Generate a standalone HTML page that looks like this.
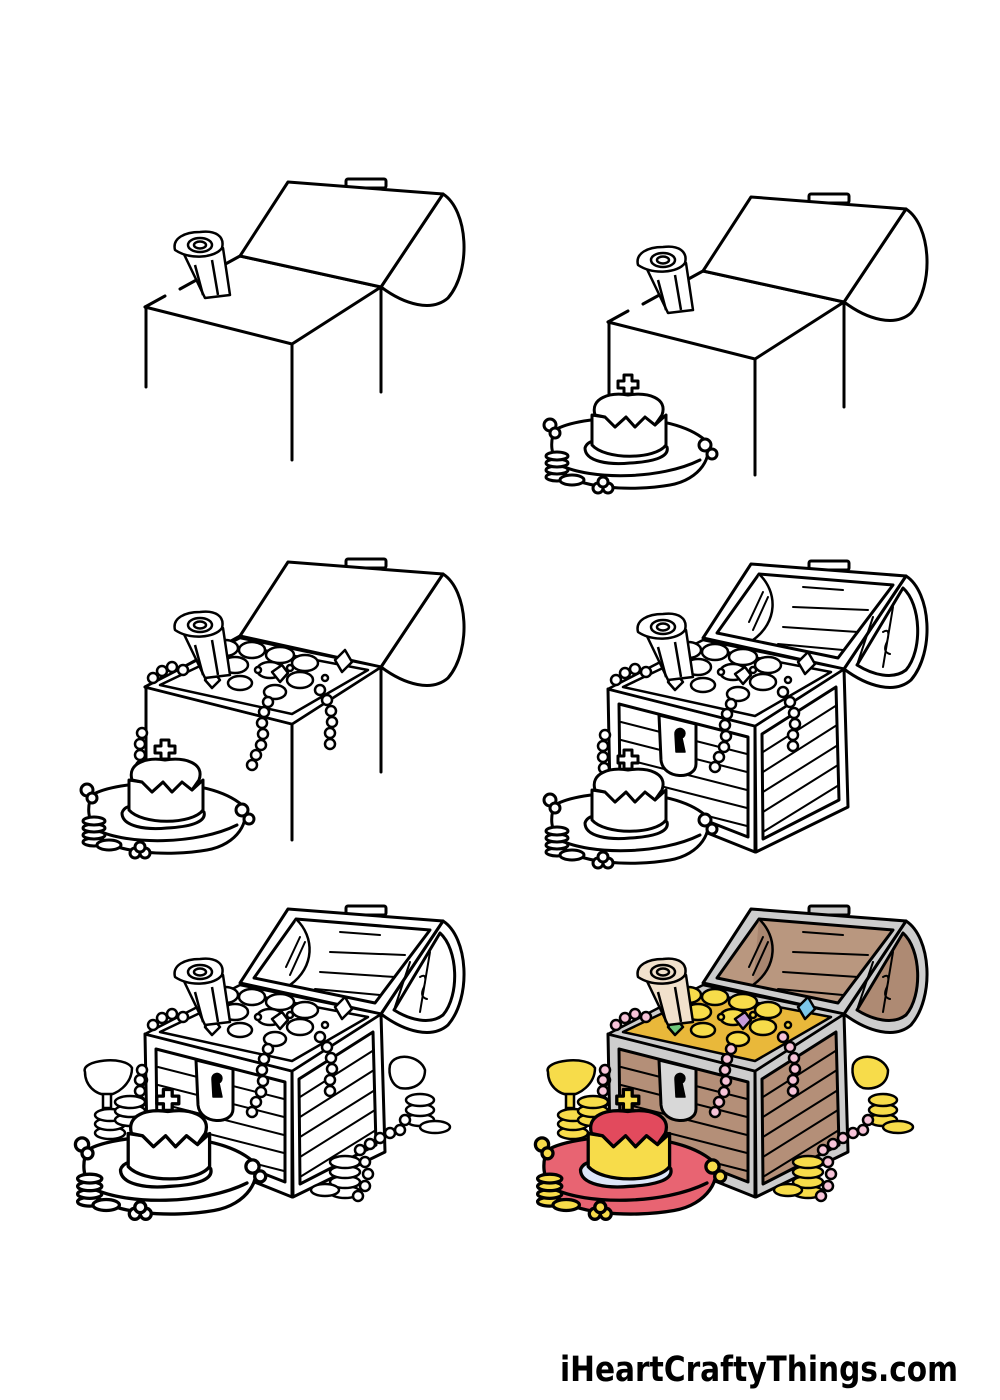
<!DOCTYPE html>
<html><head><meta charset="utf-8"><style>
html,body{margin:0;padding:0;background:#fff}
svg{display:block}
</style></head><body>
<svg width="1000" height="1400" viewBox="0 0 1000 1400" xmlns="http://www.w3.org/2000/svg">
<defs>
<g id="lid" fill="#fff" stroke="#000" stroke-width="3" stroke-linejoin="round" stroke-linecap="round">
  <rect x="346" y="179" width="40" height="9" rx="2"/>
  <path d="M443,194 C468,210 472,270 448,298 C432,312 405,305 381,287 Z"/>
  <polygon points="288,182 443,194 381,287 240,256"/>
</g>
<g id="box" fill="none" stroke="#000" stroke-width="3" stroke-linecap="round">
  <path d="M145,307 L292,344 L381,287"/>
  <path d="M145,307 L165,296 M180,289 L240,256 M240,256 L381,287"/>
  <path d="M146,307 V387 M292,344 V460 M381,287 V392"/>
</g>
<g id="scroll" stroke="#000" stroke-width="2.5" stroke-linejoin="round" style="fill:var(--scr,#fff)">
  <path d="M182,250 L205,298 L230,295 L223,248 Z"/>
  <path d="M175,250 C172,238 185,232 200,232 C215,230 225,236 222,248 C215,258 190,260 175,250 Z"/>
  <ellipse cx="200" cy="245" rx="12" ry="7"/>
  <ellipse cx="200" cy="245" rx="6" ry="3.5"/>
  <path d="M195,265 L203,295 M212,260 L218,295" fill="none"/>
</g>
<g id="crownset" stroke="#000" stroke-width="3" stroke-linejoin="round" stroke-linecap="round">
  <path d="M25,60 C50,45 140,40 175,70 C185,85 170,110 140,115 C100,122 45,118 30,100 C20,85 20,70 25,60 Z" style="fill:var(--pil,#fff)"/>
  <path d="M30,95 C60,110 130,110 170,90" fill="none"/>
  <path d="M55,78 C58,68 75,70 80,72 C110,74 130,70 137,77 C140,88 120,92 100,93 C80,95 55,92 55,78 Z" style="fill:var(--cloth,#fff)"/>
  <path d="M62,45 L62,75 C75,90 125,90 136,75 L136,45 L125,55 L115,47 L105,57 L96,47 L85,57 L75,47 Z" style="fill:var(--gold,#fff)"/>
  <path d="M65,45 C60,28 80,22 98,25 C118,22 138,28 132,45 L125,55 L115,47 L105,57 L96,47 L85,57 L75,47 Z" style="fill:var(--dome,#fff)"/>
  <path d="M94,24 V18 h-6 v-7 h6 v-6 h8 v6 h6 v7 h-6 v6 z" style="fill:var(--gold,#fff)"/>
  <g style="fill:var(--gold,#fff)"><ellipse cx="27" cy="107" rx="11" ry="4"/><ellipse cx="27" cy="100" rx="11" ry="4"/><ellipse cx="27" cy="93" rx="11" ry="4"/><ellipse cx="27" cy="86" rx="11" ry="4"/><ellipse cx="42" cy="110" rx="12" ry="5"/></g>
  <g style="fill:var(--gold,#fff)"><circle cx="20" cy="55" r="6"/><circle cx="25" cy="63" r="5"/><circle cx="175" cy="75" r="6"/><circle cx="182" cy="84" r="5"/><circle cx="68" cy="118" r="5"/><circle cx="78" cy="118" r="5"/><circle cx="73" cy="112" r="5"/></g>
</g>
<g id="treasure" stroke="#000" stroke-width="2.5" stroke-linejoin="round">
  <polygon points="145,307 240,258 381,287 292,344" style="fill:var(--frame,#fff)"/>
  <polygon points="160,305 242,266 368,290 292,334" style="fill:var(--pile,#fff)"/>
  <g style="fill:var(--gold,#fff)">
    <ellipse cx="225" cy="268" rx="13" ry="8"/><ellipse cx="252" cy="270" rx="13" ry="8"/><ellipse cx="280" cy="275" rx="14" ry="8"/><ellipse cx="305" cy="283" rx="13" ry="8"/>
    <ellipse cx="235" cy="285" rx="13" ry="8"/><ellipse cx="270" cy="290" rx="13" ry="8"/><ellipse cx="300" cy="300" rx="13" ry="8"/><ellipse cx="240" cy="303" rx="12" ry="7"/><ellipse cx="275" cy="312" rx="11" ry="7"/>
    <circle cx="258" cy="290" r="3"/><circle cx="215" cy="298" r="3"/><circle cx="325" cy="298" r="3"/><circle cx="290" cy="288" r="3"/>
  </g>
  <polygon points="272,292 282,285 288,293 280,302" style="fill:var(--gem1,#fff)"/>
  <polygon points="335,280 345,270 352,282 342,292" style="fill:var(--gem2,#fff)"/>
  <polygon points="205,300 212,290 220,300 212,308" style="fill:var(--gem3,#fff)"/>
  <g style="fill:var(--pearl,#fff)">
    <circle cx="153" cy="298" r="5"/><circle cx="162" cy="291" r="5"/><circle cx="172" cy="287" r="5"/><circle cx="183" cy="290" r="5"/>
    <circle cx="268" cy="322" r="5"/><circle cx="264" cy="332" r="5"/><circle cx="262" cy="343" r="5"/><circle cx="263" cy="354" r="5"/><circle cx="261" cy="365" r="5"/><circle cx="256" cy="375" r="5"/><circle cx="252" cy="385" r="5"/>
    <circle cx="320" cy="310" r="5"/><circle cx="327" cy="320" r="5"/><circle cx="331" cy="331" r="5"/><circle cx="332" cy="342" r="5"/><circle cx="330" cy="353" r="5"/><circle cx="330" cy="364" r="5"/>
    <circle cx="142" cy="353" r="5"/><circle cx="140" cy="364" r="5"/><circle cx="140" cy="375" r="5"/><circle cx="141" cy="386" r="5"/>
  </g>
</g>
<g id="woodbox" stroke="#000" stroke-width="3" stroke-linejoin="round" stroke-linecap="round">
  <polygon points="145,307 292,344 292,470 147,412" style="fill:var(--frame,#fff)"/>
  <polygon points="292,344 381,287 385,425 293,470" style="fill:var(--frame,#fff)"/>
  <polygon points="156,322 285,355 285,455 157,405" style="fill:var(--wood,#fff)"/>
  <polygon points="299,352 373,305 376,418 300,457" style="fill:var(--wood,#fff)"/>
  <g fill="none" stroke-width="2">
    <path d="M158,340 L284,372 M158,358 L284,390 M158,376 L284,408 M158,394 L284,426 M158,412 L284,444"/>
    <path d="M300,370 L374,323 M300,390 L374,343 M300,410 L375,363 M300,430 L375,383 M300,450 L376,403"/>
  </g>
  <path d="M196,333 L233,342 L233,382 C233,398 200,398 198,378 Z" style="fill:var(--lock,#fff)"/>
  <path d="M212,352 a5,5 0 1 1 7,4 l3,14 h-9 z" fill="#000" stroke-width="1.5"/>
</g>
<g id="woodlid" stroke="#000" stroke-width="3" stroke-linejoin="round" stroke-linecap="round">
  <rect x="346" y="179" width="40" height="9" rx="2" style="fill:var(--frame,#fff)"/>
  <path d="M443,194 C468,210 472,270 448,298 C432,312 405,305 381,287 Z" style="fill:var(--frame,#fff)"/>
  <path d="M440,206 C458,222 460,268 443,288 C430,298 410,293 394,283 Z" style="fill:var(--lside,#fff)"/>
  <polygon points="288,182 443,194 381,287 240,256" style="fill:var(--frame,#fff)"/>
  <polygon points="296,192 430,203 375,276 254,251" style="fill:var(--linner,#fff)"/>
  <path d="M296,192 C315,210 315,240 290,258" stroke-width="2.5" style="fill:var(--linner2,#fff)"/>
  <g fill="none" stroke-width="2"><path d="M340,205 L380,208 M330,225 L405,228 M320,245 L395,250 M315,262 L380,268 M300,210 L286,240 M305,215 L290,248"/>
  <path d="M420,250 q8,-5 4,10 q-5,10 3,12 M410,235 L395,280 M430,225 L420,285"/></g>
</g>
<g id="side5" stroke="#000" stroke-width="2.5">
  <path d="M85,1072 C80,1060 125,1055 132,1068 C132,1085 115,1095 108,1095 C95,1095 85,1085 85,1072 Z" style="fill:var(--gold,#fff)"/>
  <rect x="103" y="1094" width="8" height="14" style="fill:var(--gold,#fff)"/>
  <g style="fill:var(--gold,#fff)"><ellipse cx="110" cy="1133" rx="15" ry="6"/><ellipse cx="110" cy="1124" rx="15" ry="6"/><ellipse cx="110" cy="1115" rx="15" ry="6"/><ellipse cx="130" cy="1120" rx="15" ry="6"/><ellipse cx="130" cy="1111" rx="15" ry="6"/><ellipse cx="130" cy="1102" rx="15" ry="6"/></g>
  <path d="M390,1065 C395,1052 420,1055 425,1070 C425,1085 412,1090 400,1088 C392,1085 388,1075 390,1065 Z" style="fill:var(--gold,#fff)"/>
  <g style="fill:var(--gold,#fff)"><ellipse cx="420" cy="1120" rx="14" ry="6"/><ellipse cx="420" cy="1110" rx="14" ry="6"/><ellipse cx="420" cy="1100" rx="14" ry="6"/><ellipse cx="435" cy="1127" rx="15" ry="6"/>
  <ellipse cx="345" cy="1192" rx="15" ry="6"/><ellipse cx="345" cy="1182" rx="15" ry="6"/><ellipse cx="345" cy="1172" rx="15" ry="6"/><ellipse cx="345" cy="1162" rx="15" ry="6"/><ellipse cx="325" cy="1190" rx="14" ry="6"/></g>
  <g style="fill:var(--pearl,#fff)"><circle cx="360" cy="1150" r="5"/><circle cx="370" cy="1144" r="5"/><circle cx="380" cy="1138" r="5"/><circle cx="390" cy="1133" r="5"/><circle cx="400" cy="1130" r="5"/><circle cx="405" cy="1120" r="5"/><circle cx="365" cy="1162" r="5"/><circle cx="368" cy="1174" r="5"/><circle cx="365" cy="1186" r="5"/><circle cx="358" cy="1196" r="5"/><circle cx="140" cy="1080" r="5"/><circle cx="142" cy="1070" r="5"/></g>
</g>
</defs>

<use href="#box"/>
<use href="#lid"/>
<use href="#scroll"/>

<g transform="translate(463,15)"><use href="#box"/><use href="#lid"/><use href="#scroll"/></g>
<g transform="translate(530,370)"><use href="#crownset"/></g>

<g transform="translate(0,380)"><use href="#box"/><use href="#lid"/><use href="#treasure"/><use href="#scroll"/></g>
<g transform="translate(67,735)"><use href="#crownset"/></g>

<g transform="translate(463,382)"><use href="#woodlid"/><use href="#woodbox"/><use href="#treasure"/><use href="#scroll"/></g>
<g transform="translate(530,745)"><use href="#crownset"/></g>

<g transform="translate(0,727)"><use href="#woodlid"/><use href="#woodbox"/><use href="#treasure"/><use href="#scroll"/></g>
<use href="#side5"/>
<g transform="translate(60,1084) scale(1.1)"><use href="#crownset"/></g>

<g style="--frame:#cdcdcd;--wood:#b48f78;--linner:#b9977f;--linner2:#a98670;--lside:#ae8a73;--lock:#d8d8d8;--gold:#f7dc4a;--pile:#e9b83a;--pearl:#f6c3d8;--gem1:#c59ad8;--gem2:#7cc7ea;--gem3:#6fc97b;--pil:#e86472;--dome:#e24a5d;--cloth:#dde6f8;--scr:#f1e1cc">
  <g transform="translate(463,727)"><use href="#woodlid"/><use href="#woodbox"/><use href="#treasure"/><use href="#scroll"/></g>
  <g transform="translate(463,0)"><use href="#side5"/></g>
  <g transform="translate(520,1084) scale(1.1)"><use href="#crownset"/></g>
</g>

<text x="560" y="1381" font-family="'DejaVu Sans','Liberation Sans',sans-serif" font-weight="bold" font-size="35" textLength="398" lengthAdjust="spacingAndGlyphs" fill="#000">iHeartCraftyThings.com</text>
</svg>
</body></html>
